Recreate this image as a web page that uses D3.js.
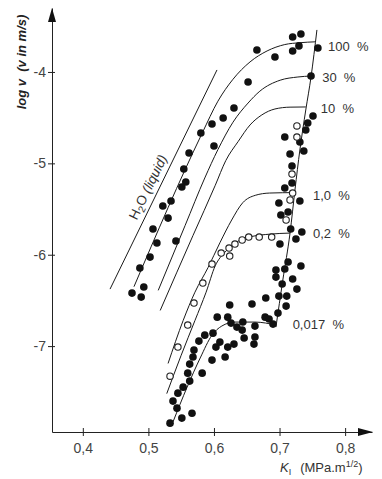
<!DOCTYPE html>
<html>
<head>
<meta charset="utf-8">
<style>
  body { margin: 0; background: #fff; font-family: "Liberation Sans", Arial, sans-serif; }
  .tick text { font-size: 14px; fill: #444; }
  .tick line, .domain { stroke: #222; }
  .curve { fill: none; stroke: #1a1a1a; stroke-width: 1; }
  .lbl { font-size: 13px; fill: #333; white-space: pre; }
</style>
</head>
<body>
<script src="https://cdnjs.cloudflare.com/ajax/libs/d3/7.8.5/d3.min.js"></script>
<script>
// axis ticks
var xTicks = [0.4, 0.5, 0.6, 0.7, 0.8];
var yTicks = [-4, -5, -6, -7];

// fitted curves, [K_I, log v]
var curveNames = ["100  %", "30  %", "10  %", "1,0  %", "0,2  %", "0,017  %"];
var curve100 = [[0.478,-6.35],[0.582,-4.67],[0.606,-4.32],[0.629,-4.08],[0.655,-3.89],[0.681,-3.77],[0.708,-3.70],[0.731,-3.68],[0.755,-3.67]];
var curve30  = [[0.515,-6.39],[0.556,-5.68],[0.586,-5.16],[0.606,-4.85],[0.629,-4.55],[0.652,-4.34],[0.670,-4.21],[0.701,-4.09],[0.728,-4.055],[0.748,-4.044]];
var curve10  = [[0.518,-6.61],[0.568,-5.79],[0.602,-5.24],[0.618,-4.97],[0.637,-4.76],[0.655,-4.58],[0.673,-4.47],[0.693,-4.405],[0.716,-4.385],[0.740,-4.383]];
var curve1   = [[0.530,-7.19],[0.553,-6.72],[0.571,-6.41],[0.591,-6.14],[0.609,-5.87],[0.627,-5.62],[0.644,-5.43],[0.663,-5.35],[0.685,-5.325],[0.7235,-5.32]];
var curve02  = [[0.528,-7.52],[0.550,-7.10],[0.571,-6.72],[0.588,-6.41],[0.602,-6.12],[0.617,-5.97],[0.637,-5.85],[0.658,-5.80],[0.685,-5.775],[0.716,-5.763]];
var curve0017 = [[0.5375,-7.83],[0.559,-7.45],[0.579,-7.13],[0.597,-6.88],[0.612,-6.78],[0.632,-6.737],[0.6625,-6.737],[0.6945,-6.77]];
var curves = [curve100, curve30, curve10, curve1, curve02, curve0017];
// where each curve's percentage label sits
var labelAt = [[0.774,-3.726],[0.765,-4.055],[0.763,-4.394],[0.751,-5.347],[0.751,-5.763],[0.720,-6.759]];

var stageLine = [[0.6945,-6.792],[0.705,-6.277],[0.716,-5.763],[0.7235,-5.292],[0.731,-4.854],[0.740,-4.416],[0.748,-4.055],[0.757,-3.54]];
var h2oLine = [[0.4415,-6.376],[0.6046,-3.978]];

// measured points, [K_I, log v]
var filledPts = [
  [0.475,-6.42],[0.489,-6.464],[0.493,-6.354],[0.487,-6.146],[0.5025,-6.026],[0.513,-5.872],[0.507,-5.719],
  [0.530,-5.599],[0.522,-5.467],[0.5345,-5.412],[0.542,-5.850],[0.551,-5.259],[0.557,-5.204],[0.554,-5.062],
  [0.562,-4.887],[0.580,-4.668],[0.597,-4.569],[0.600,-4.810],[0.614,-4.504],[0.6305,-4.394],[0.652,-4.109],
  [0.6655,-3.759],[0.693,-3.836],[0.720,-3.617],[0.7326,-3.584],[0.7296,-3.715],[0.720,-3.770],[0.7585,-3.737],
  [0.748,-4.044],
  [0.751,-4.482],[0.743,-4.558],[0.740,-4.635],[0.708,-4.712],[0.731,-4.766],[0.737,-4.865],[0.716,-4.898],
  [0.719,-5.029],[0.719,-5.215],[0.708,-5.270],[0.699,-5.434],[0.731,-5.412],[0.713,-5.533],[0.702,-5.566],
  [0.717,-5.719],[0.734,-5.752],[0.725,-5.828],[0.7006,-5.883],[0.713,-6.080],[0.7326,-6.124],[0.6945,-6.168],
  [0.708,-6.157],[0.6945,-6.245],[0.720,-6.266],[0.704,-6.321],[0.7265,-6.376],[0.699,-6.453],[0.711,-6.453],
  [0.679,-6.474],[0.658,-6.540],[0.710,-6.562],[0.6976,-6.639],[0.678,-6.683],[0.684,-6.704],[0.690,-6.759],
  [0.624,-6.551],
  [0.605,-6.683],[0.621,-6.683],[0.626,-6.748],[0.644,-6.737],[0.635,-6.792],[0.6625,-6.781],[0.643,-6.825],
  [0.646,-6.912],[0.661,-6.978],[0.6625,-6.901],
  [0.533,-7.843],[0.5375,-7.602],[0.545,-7.515],[0.5436,-7.679],[0.553,-7.449],[0.551,-7.788],[0.5665,-7.734],
  [0.563,-7.383],[0.560,-7.296],[0.563,-7.197],[0.568,-7.120],[0.5695,-7.044],[0.577,-6.945],[0.586,-6.880],
  [0.5985,-6.858],[0.582,-7.296],[0.597,-7.153],[0.603,-7.011],[0.609,-6.956],[0.617,-7.120],[0.621,-7.011],
  [0.6305,-6.978]
];
var openPts = [
  [0.533,-7.329],[0.545,-7.011],[0.560,-6.770],[0.5695,-6.529],[0.583,-6.310],[0.597,-6.102],[0.611,-5.982],
  [0.623,-5.927],[0.624,-6.015],[0.632,-5.883],[0.643,-5.839],[0.653,-5.807],[0.669,-5.807],[0.688,-5.807],
  [0.7265,-4.591],[0.7265,-4.712],[0.719,-5.117],[0.720,-5.325],[0.716,-5.401],[0.710,-5.620]
];

var width = 382, height = 479;

var svg = d3.select("body").append("svg")
    .attr("width", width)
    .attr("height", height);

var x = d3.scaleLinear().domain([0.353, 0.841]).range([52, 372]);
var y = d3.scaleLinear().domain([-7.94, -3.30]).range([432, 8]);

var comma = d3.formatLocale({decimal: ",", thousands: ".", grouping: [3], currency: ["", ""]}).format(".1f");

// axes, ticks cross the line
var xAxis = svg.append("g")
    .attr("transform", "translate(0," + y.range()[0] + ")")
    .call(d3.axisBottom(x).tickValues(xTicks).tickSize(4).tickSizeOuter(0).tickFormat(comma));
xAxis.selectAll(".tick line").attr("y1", -4);
xAxis.selectAll(".tick text").attr("y", 11).attr("font-family", null);

var yAxis = svg.append("g")
    .attr("transform", "translate(" + x.range()[0] + ",0)")
    .call(d3.axisLeft(y).tickValues(yTicks).tickSize(4).tickSizeOuter(0).tickFormat(function(d) { return "-" + Math.abs(d); }));
yAxis.selectAll(".tick line").attr("x1", 3);
yAxis.selectAll(".tick text").attr("x", -6).attr("font-family", null);
svg.selectAll(".domain").attr("stroke-width", 1);
svg.selectAll(".tick text").attr("font-size", null);

// arrow heads
var x0 = x.range()[0], y0 = y.range()[0];
svg.append("path")
    .attr("d", "M" + x0 + "," + (y.range()[1]) + "l-4,14l8,0z")
    .attr("fill", "#111");
svg.append("path")
    .attr("d", "M" + (x.range()[1] + 1) + "," + y0 + "l-15,-4l0,8z")
    .attr("fill", "#111");

// axis titles
svg.append("text")
    .attr("transform", "translate(26,62) rotate(-90)")
    .attr("text-anchor", "middle")
    .style("font-size", "13px")
    .style("font-weight", "bold")
    .style("font-style", "italic")
    .style("white-space", "pre")
    .attr("fill", "#222")
    .text("log v  (v in m/s)");

var xt = svg.append("text")
    .attr("x", 280).attr("y", 472)
    .style("font-size", "13px")
    .attr("fill", "#333");
xt.append("tspan").style("font-style", "italic").text("K");
xt.append("tspan").attr("dy", 3).style("font-size", "9px").text("I");
xt.append("tspan").attr("dy", -3).attr("dx", 9).text("(MPa.m");
xt.append("tspan").attr("dy", -5).style("font-size", "9px").text("1/2");
xt.append("tspan").attr("dy", 5).text(")");

var line = d3.line()
    .x(function(d) { return x(d[0]); })
    .y(function(d) { return y(d[1]); })
    .curve(d3.curveMonotoneX);

// H2O reference line and its label
svg.append("path").attr("class", "curve").attr("d", d3.line()
    .x(function(d) { return x(d[0]); })
    .y(function(d) { return y(d[1]); })(h2oLine));

var ax = x(h2oLine[0][0]), ay = y(h2oLine[0][1]),
    bx = x(h2oLine[1][0]), by = y(h2oLine[1][1]);
var ang = Math.atan2(by - ay, bx - ax) * 180 / Math.PI;
var t = 0.30;
var h2o = svg.append("text")
    .attr("transform", "translate(" + (ax + t * (bx - ax)) + "," + (ay + t * (by - ay)) + ") rotate(" + ang + ")")
    .attr("dy", -6)
    .style("font-size", "13.5px")
    .style("white-space", "pre")
    .attr("fill", "#333");
h2o.append("tspan").text("H");
h2o.append("tspan").attr("dy", 3).style("font-size", "10px").text("2");
h2o.append("tspan").attr("dy", -3).text("O ");
h2o.append("tspan").style("font-style", "italic").text("(liquid)");

svg.append("path").attr("class", "curve").attr("d", line(stageLine));

svg.selectAll(".pc")
    .data(curves)
  .enter().append("path")
    .attr("class", "curve pc")
    .attr("d", line);

svg.selectAll(".lbl")
    .data(curveNames)
  .enter().append("text")
    .attr("class", "lbl")
    .attr("x", function(d, i) { return x(labelAt[i][0]); })
    .attr("y", function(d, i) { return y(labelAt[i][1]); })
    .attr("dy", "0.35em")
    .text(function(d) { return d; });

svg.selectAll(".fp")
    .data(filledPts)
  .enter().append("circle")
    .attr("class", "fp")
    .attr("cx", function(d) { return x(d[0]); })
    .attr("cy", function(d) { return y(d[1]); })
    .attr("r", 3.8)
    .attr("fill", "#111");

svg.selectAll(".op")
    .data(openPts)
  .enter().append("circle")
    .attr("class", "op")
    .attr("cx", function(d) { return x(d[0]); })
    .attr("cy", function(d) { return y(d[1]); })
    .attr("r", 3.2)
    .attr("fill", "#fff")
    .attr("stroke", "#222")
    .attr("stroke-width", 1.1);
</script>
</body>
</html>
